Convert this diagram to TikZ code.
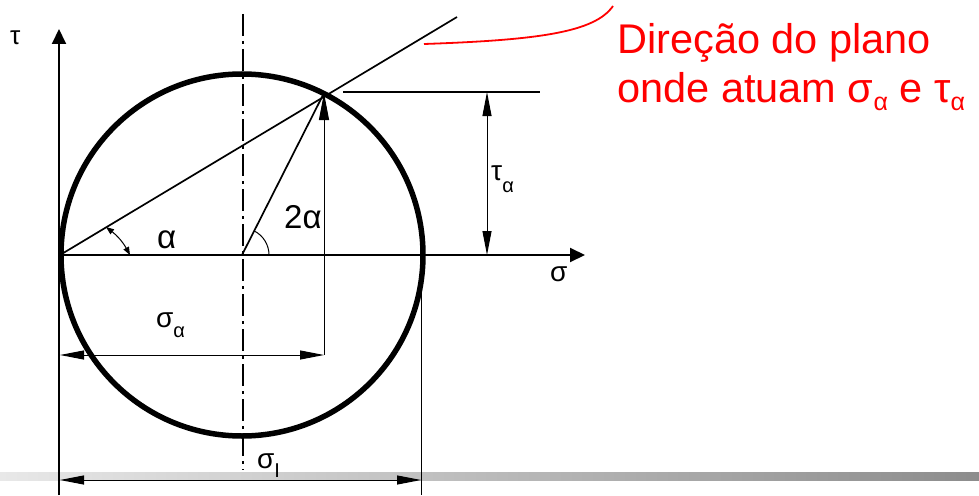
\documentclass[tikz,border=0pt]{standalone}
\usepackage{fontspec}
\setmainfont{Liberation Sans}
\usetikzlibrary{arrows.meta}
\begin{document}
\begin{tikzpicture}[x=1pt,y=-1pt,
  axisline/.style={line width=2pt,-{Triangle[length=15pt,width=14pt]}},
  dimline/.style={line width=1pt,{Triangle[length=24pt,width=9pt]}-{Triangle[length=24pt,width=9pt]}},
  thinline/.style={line width=1pt},
  medline/.style={line width=1.7pt},
  lbl/.style={inner sep=0pt,anchor=base west,font=\fontsize{28}{30}\selectfont},
  biglbl/.style={inner sep=0pt,anchor=base west,font=\fontsize{33}{36}\selectfont},
  redtext/.style={inner sep=0pt,text=red,anchor=base west,font=\fontsize{41.5}{44}\selectfont}]
\useasboundingbox (0,0) rectangle (979,495);
\fill[white] (0,0) rectangle (979,495);
% gray bar
\shade[left color=black!9,right color=black!45] (0,472) rectangle (979,480);
% coordinates
\coordinate (O) at (60,255);
\coordinate (C) at (242,255);
\coordinate (P) at (324,93);
\coordinate (Ttop) at (59,29);
\coordinate (Tbot) at (59,495);
\coordinate (Send) at (585,255);
\coordinate (Lend) at (457,17);
\coordinate (H1) at (343,92);
\coordinate (H2) at (540,92);
\coordinate (Tau1) at (487,92);
\coordinate (Tau2) at (487,255);
\coordinate (Sa1) at (60,355);
\coordinate (Sa2) at (324,355);
\coordinate (Si1) at (60,480);
\coordinate (Si2) at (421,480);
\coordinate (R1) at (421,255);
\coordinate (R2) at (421,495);
\coordinate (D1) at (243,14);
\coordinate (D2) at (243,470);
\coordinate (A1) at (106,227);
\coordinate (A2) at (130,255);
\coordinate (Rc1) at (424,44);
\coordinate (Rc2) at (613,6);
% center dash-dot line
\draw[line width=1.6pt,dash pattern=on 22pt off 5pt on 3pt off 5pt] (D1) -- (D2);
% axes
\draw[axisline] (Tbot) -- (Ttop);
\draw[axisline] (O) -- (Send);
% circle
\draw[line width=5.5pt] (C) circle[radius=181pt];
% lines
\draw[medline] (O) -- (Lend);
\draw[medline] (C) -- (P);
\draw[medline] (H1) -- (H2);
\draw[thinline] (R1) -- (R2);
\draw[line width=1pt,-{Triangle[length=27pt,width=10pt]}] (Sa2) -- (P);
% dimensions
\draw[dimline] (Tau1) -- (Tau2);
\draw[dimline] (Sa1) -- (Sa2);
\draw[dimline] (Si1) -- (Si2);
% angle marks
\draw[line width=1pt,{Triangle[length=8pt,width=6pt]}-{Triangle[length=8pt,width=6pt]}] (A1) to[bend left=12] (A2);
\draw[line width=1pt] (269,255) arc[start angle=0,end angle=62.7,radius=27pt];
% red leader
\draw[red,line width=1.8pt] (Rc1) .. controls (540,40) and (595,32) .. (Rc2);
% labels
\node[lbl,font=\fontsize{26}{28}\selectfont] (tau) at (10,45) {τ};
\node[lbl] (sig) at (550,281) {σ};
\node[biglbl] (alpha) at (157,248) {α};
\node[biglbl] (twoalpha) at (284,228) {2α};
\node[lbl] (taua) at (491,180) {τ\raisebox{-12pt}{\fontsize{20}{22}\selectfont α}};
\node[lbl] (siga) at (156,327) {σ\raisebox{-10pt}{\fontsize{20}{22}\selectfont α}};
\node[lbl] (sigI) at (257,468) {σ\raisebox{-9pt}{\fontsize{20}{22}\selectfont I}};
\node[redtext] (t1) at (617,53) {Direção do plano};
\node[redtext] (t2) at (617,102) {onde atuam σ\raisebox{-9pt}{\fontsize{25}{27}\selectfont α} e τ\raisebox{-9pt}{\fontsize{25}{27}\selectfont α}};
\end{tikzpicture}
\end{document}
